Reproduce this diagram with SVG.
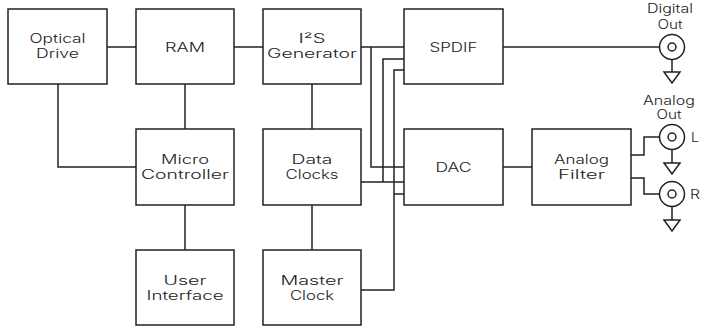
<svg xmlns="http://www.w3.org/2000/svg" width="703" height="326" viewBox="0 0 703 326">
<style>
.box{fill:#fff;stroke:#222;stroke-width:1.5}
.ln{fill:none;stroke:#222;stroke-width:1.5}
text{font-family:Inter,Lato,"Liberation Sans",sans-serif;font-weight:300;font-size:12.5px;fill:#222;text-anchor:middle}
</style>
<rect width="703" height="326" fill="#fff"/>
<g id="connectors" class="ln">
<path d="M107 47H136"/>
<path d="M234 47H263"/>
<path d="M58 84V167H136"/>
<path d="M185 84V129"/>
<path d="M185 205V250"/>
<path d="M312 84V129"/>
<path d="M312 205V250"/>
<path d="M361 47H404"/>
<path d="M371 47V167H404"/>
<path d="M404 59H383V182"/>
<path d="M361 182H404"/>
<path d="M404 70H394V290H361"/>
<path d="M394 194H404"/>
<path d="M503 167H532"/>
<path d="M503 47H659"/>
<path d="M631 155H644V137H660"/>
<path d="M631 178H644V194H660"/>
</g>
<g id="optical-drive"><rect class="box" x="8" y="9" width="99" height="75"/><text x="57.5" y="43" textLength="56" lengthAdjust="spacingAndGlyphs">Optical</text><text x="57.5" y="58" textLength="43" lengthAdjust="spacingAndGlyphs">Drive</text></g>
<g id="ram"><rect class="box" x="136" y="9" width="98" height="75"/><text x="185" y="52" textLength="40" lengthAdjust="spacingAndGlyphs">RAM</text></g>
<g id="i2s-generator"><rect class="box" x="263" y="9" width="98" height="75"/><text x="312" y="43" textLength="27" lengthAdjust="spacingAndGlyphs">I²S</text><text x="312" y="58" textLength="90" lengthAdjust="spacingAndGlyphs">Generator</text></g>
<g id="spdif"><rect class="box" x="404" y="9" width="99" height="75"/><text x="453.5" y="52" textLength="48" lengthAdjust="spacingAndGlyphs">SPDIF</text></g>
<g id="micro-controller"><rect class="box" x="136" y="129" width="98" height="76"/><text x="185" y="164" textLength="48" lengthAdjust="spacingAndGlyphs">Micro</text><text x="185" y="179" textLength="88" lengthAdjust="spacingAndGlyphs">Controller</text></g>
<g id="data-clocks"><rect class="box" x="263" y="129" width="98" height="76"/><text x="312" y="164" textLength="41" lengthAdjust="spacingAndGlyphs">Data</text><text x="312" y="179" textLength="53" lengthAdjust="spacingAndGlyphs">Clocks</text></g>
<g id="dac"><rect class="box" x="404" y="129" width="99" height="76"/><text x="453.5" y="172" textLength="36" lengthAdjust="spacingAndGlyphs">DAC</text></g>
<g id="analog-filter"><rect class="box" x="532" y="129" width="99" height="76"/><text x="581.5" y="164" textLength="55" lengthAdjust="spacingAndGlyphs">Analog</text><text x="581.5" y="179" textLength="47" lengthAdjust="spacingAndGlyphs">Filter</text></g>
<g id="user-interface"><rect class="box" x="136" y="250" width="98" height="75"/><text x="185" y="285" textLength="43" lengthAdjust="spacingAndGlyphs">User</text><text x="185" y="300" textLength="77" lengthAdjust="spacingAndGlyphs">Interface</text></g>
<g id="master-clock"><rect class="box" x="263" y="250" width="98" height="75"/><text x="312" y="285" textLength="63" lengthAdjust="spacingAndGlyphs">Master</text><text x="312" y="300" textLength="44" lengthAdjust="spacingAndGlyphs">Clock</text></g>
<g id="digital-out">
<text x="670" y="13" textLength="46" lengthAdjust="spacingAndGlyphs">Digital</text><text x="670" y="29" textLength="25" lengthAdjust="spacingAndGlyphs">Out</text>
<circle class="ln" cx="672" cy="47" r="12.5" fill="#fff"/><circle class="ln" cx="672" cy="47" r="4"/>
<path class="ln" d="M672 59.5V72M664 72H680L672 83Z"/>
</g>
<g id="analog-out-l">
<text x="669" y="105" textLength="52" lengthAdjust="spacingAndGlyphs">Analog</text><text x="669" y="119" textLength="25" lengthAdjust="spacingAndGlyphs">Out</text>
<circle class="ln" cx="672" cy="137" r="12.5"/><circle class="ln" cx="672" cy="137" r="4"/>
<path class="ln" d="M672 149.5V163M664 163H680L672 174Z"/>
<text x="691" y="142" style="text-anchor:start" textLength="8" lengthAdjust="spacingAndGlyphs">L</text>
</g>
<g id="analog-out-r">
<circle class="ln" cx="672" cy="194" r="12.5"/><circle class="ln" cx="672" cy="194" r="4"/>
<path class="ln" d="M672 206.5V220M664 220H680L672 231Z"/>
<text x="690" y="199" style="text-anchor:start" textLength="10" lengthAdjust="spacingAndGlyphs">R</text>
</g>
</svg>
